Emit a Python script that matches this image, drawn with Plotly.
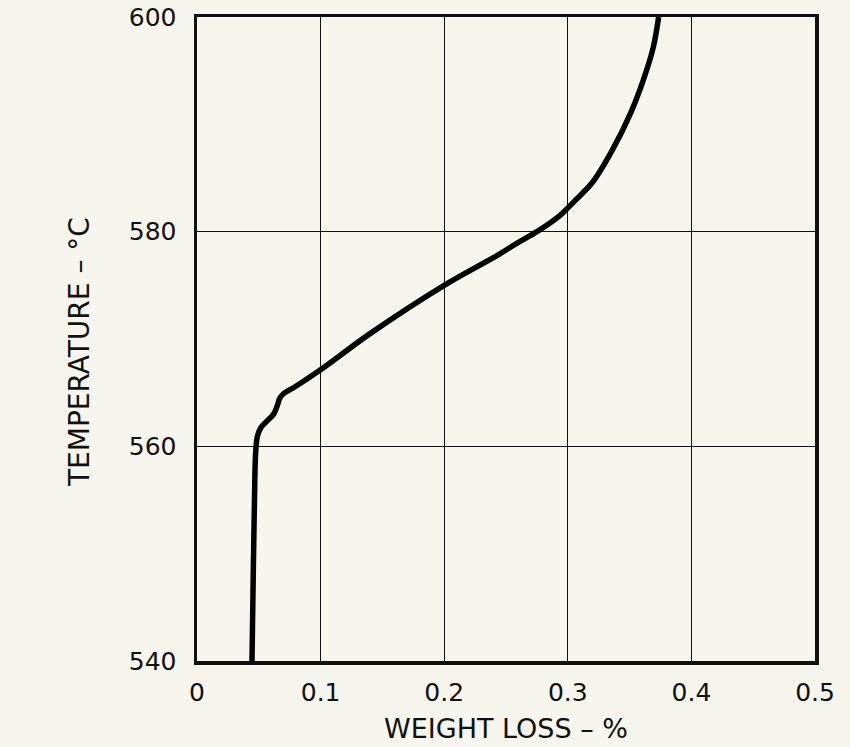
import plotly.graph_objects as go

weight_loss = [0.0445, 0.0455, 0.0465, 0.0475, 0.049, 0.052, 0.057, 0.062, 0.065, 0.067,
               0.070, 0.080, 0.102, 0.140, 0.200, 0.243, 0.260, 0.275, 0.2935, 0.305,
               0.320, 0.336, 0.351, 0.361, 0.369, 0.3735]
temperature = [540, 548, 555, 559.5, 561.0, 561.8, 562.4, 563.0, 563.8, 564.5,
               564.9, 565.6, 567.3, 570.5, 575.0, 577.8, 579.0, 580.0, 581.5, 582.8,
               584.6, 587.6, 591.1, 594.1, 597.1, 600]

x_ticks = [0, 0.1, 0.2, 0.3, 0.4, 0.5]
x_ticklabels = ["0", "0.1", "0.2", "0.3", "0.4", "0.5"]
y_ticks = [540, 560, 580, 600]
x_title = "WEIGHT LOSS – %"
y_title = "TEMPERATURE – °C"

bg = "#f6f6ee"
font = "DejaVu Sans, Liberation Sans, sans-serif"

fig = go.Figure()
fig.add_trace(go.Scatter(
    x=weight_loss, y=temperature, mode="lines",
    line=dict(color="black", width=5.5, shape="spline", smoothing=1.0),
    showlegend=False, hoverinfo="skip"))

fig.update_layout(
    width=850, height=747,
    margin=dict(l=197, r=35, t=17, b=86),
    paper_bgcolor=bg, plot_bgcolor=bg,
    font=dict(family=font, size=25, color="#111"),
    xaxis=dict(range=[0, 0.5], tickvals=x_ticks, ticktext=x_ticklabels,
               showgrid=True, gridcolor="#111", gridwidth=1.4,
               showline=True, linecolor="#111", linewidth=3.5, mirror=True,
               zeroline=False, ticks="", ticklabelstandoff=6, automargin=False,
               ticklabeloverflow="allow"),
    yaxis=dict(range=[540, 600], tickvals=y_ticks,
               showgrid=True, gridcolor="#111", gridwidth=1.4,
               showline=True, linecolor="#111", linewidth=3.5, mirror=True,
               zeroline=False, ticks="", ticklabelstandoff=12, automargin=False,
               ticklabeloverflow="allow"),
    annotations=[
        dict(text=x_title, xref="paper", yref="paper", x=0.5, y=-0.105,
             xanchor="center", yanchor="middle", showarrow=False,
             font=dict(size=27, family=font, color="#111")),
        dict(text=y_title, xref="paper", yref="paper", x=-0.189, y=0.48,
             xanchor="center", yanchor="middle", showarrow=False, textangle=-90,
             font=dict(size=28, family=font, color="#111")),
    ],
)

page_style = ("document.body.style.margin='0';"
              "document.body.style.background='" + bg + "';"
              "document.documentElement.style.background='" + bg + "';")

fig.write_html("out.html", post_script=page_style,
               config={"displayModeBar": False, "staticPlot": True})
